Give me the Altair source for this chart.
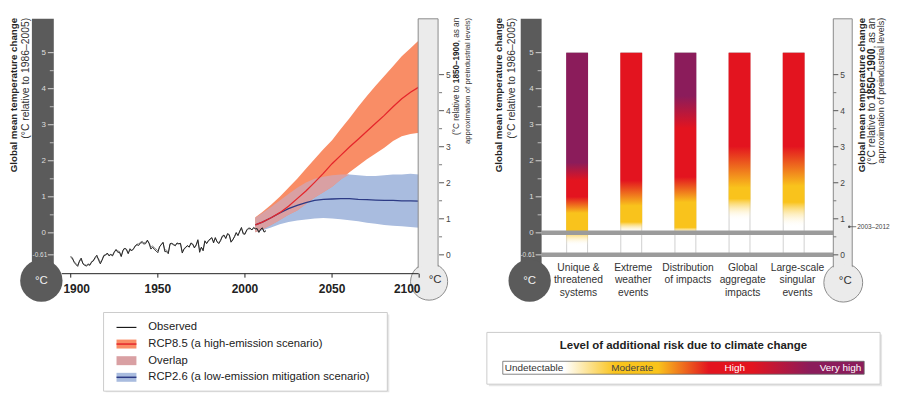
import math
import altair as alt
import numpy as np
import pandas as pd

# ------------------------------------------------------------------ data
obs_years = list(range(1900, 2013))
obs_main = [
    -0.65, -0.70, -0.82, -0.88, -0.93, -0.78, -0.70, -0.86, -0.90, -0.92,
    -0.88, -0.90, -0.80, -0.78, -0.68, -0.62, -0.76, -0.86, -0.76, -0.64,
    -0.62, -0.56, -0.64, -0.60, -0.64, -0.54, -0.46, -0.54, -0.54, -0.66,
    -0.48, -0.42, -0.47, -0.58, -0.44, -0.50, -0.45, -0.36, -0.33, -0.35,
    -0.28, -0.27, -0.31, -0.30, -0.20, -0.30, -0.45, -0.40, -0.46, -0.50,
    -0.55, -0.38, -0.33, -0.26, -0.52, -0.52, -0.58, -0.30, -0.29, -0.32,
    -0.36, -0.28, -0.30, -0.29, -0.56, -0.46, -0.40, -0.35, -0.40, -0.28,
    -0.31, -0.42, -0.33, -0.19, -0.54, -0.40, -0.50, -0.22, -0.30, -0.23,
    -0.17, -0.13, -0.28, -0.13, -0.25, -0.30, -0.22, -0.09, -0.06, -0.16,
    -0.02, -0.05, -0.26, -0.20, -0.10, 0.01, -0.08, 0.05, 0.15, -0.03,
    -0.04, 0.08, 0.13, 0.13, 0.08, 0.15, 0.11, 0.12, 0.01, 0.10,
    0.14, 0.02, 0.06,
]
obs_second = [
    -0.68, -0.73, -0.80, -0.85, -0.90, -0.80, -0.74, -0.84, -0.88, -0.90,
    -0.86, -0.88, -0.82, -0.76, -0.70, -0.66, -0.72, -0.82, -0.74, -0.62,
    -0.60, -0.58, -0.62, -0.60, -0.62, -0.52, -0.48, -0.50, -0.52, -0.64,
    -0.50, -0.44, -0.45, -0.56, -0.48, -0.48, -0.44, -0.38, -0.31, -0.31,
    -0.26, -0.23, -0.28, -0.26, -0.23, -0.27, -0.40, -0.36, -0.42, -0.45,
    -0.50, -0.40, -0.31, -0.28, -0.47, -0.48, -0.54, -0.32, -0.30, -0.34,
    -0.34, -0.30, -0.31, -0.30, -0.52, -0.44, -0.40, -0.37, -0.38, -0.30,
    -0.32, -0.40, -0.35, -0.22, -0.48, -0.40, -0.46, -0.24, -0.28, -0.21,
    -0.18, -0.15, -0.25, -0.15, -0.24, -0.27, -0.20, -0.11, -0.08, -0.14,
    -0.04, -0.06, -0.24, -0.18, -0.12, -0.01, -0.06, 0.03, 0.12, 0.00,
    -0.02, 0.06, 0.11, 0.11, 0.09, 0.13, 0.12, 0.10, 0.03, 0.09,
    0.12, 0.04, 0.05,
]

proj_years = [2006, 2010, 2015, 2020, 2025, 2030, 2035, 2040, 2045, 2050,
              2055, 2060, 2065, 2070, 2075, 2080, 2085, 2090, 2095, 2100]
rcp85_mean = [0.22, 0.30, 0.42, 0.56, 0.74, 0.95, 1.16, 1.40, 1.65, 1.92,
              2.15, 2.38, 2.60, 2.82, 3.04, 3.26, 3.50, 3.72, 3.90, 4.05]
rcp85_low = [0.02, 0.10, 0.22, 0.36, 0.50, 0.62, 0.80, 0.98, 1.13, 1.28,
             1.48, 1.68, 1.86, 2.04, 2.20, 2.36, 2.55, 2.68, 2.74, 2.78]
rcp85_high = [0.43, 0.58, 0.78, 1.00, 1.25, 1.50, 1.78, 2.05, 2.32, 2.57,
              2.88, 3.18, 3.50, 3.80, 4.08, 4.35, 4.62, 4.90, 5.12, 5.35]
rcp26_mean = [0.22, 0.30, 0.42, 0.55, 0.67, 0.76, 0.84, 0.90, 0.93, 0.94,
              0.95, 0.95, 0.93, 0.92, 0.91, 0.90, 0.90, 0.89, 0.89, 0.88]
rcp26_low = [0.02, 0.07, 0.15, 0.24, 0.30, 0.34, 0.37, 0.40, 0.41, 0.40,
             0.38, 0.35, 0.32, 0.28, 0.25, 0.22, 0.20, 0.18, 0.16, 0.14]
rcp26_high = [0.42, 0.55, 0.72, 0.90, 1.08, 1.25, 1.40, 1.50, 1.56, 1.60,
              1.62, 1.62, 1.60, 1.58, 1.58, 1.60, 1.62, 1.62, 1.64, 1.62]

year_ticks = [1900, 1950, 2000, 2050, 2100]
major_ticks = [0, 1, 2, 3, 4, 5]
minor_ticks = [0.5, 1.5, 2.5, 3.5, 4.5]
preindustrial_offset = 0.61          # 1850-1900 level relative to 1986-2005
recent_decade_warming = 0.78         # 2003-2012 relative to 1850-1900
recent_decade_label = "2003–2012"

categories = [
    "Unique &\nthreatened\nsystems",
    "Extreme\nweather\nevents",
    "Distribution\nof impacts",
    "Global\naggregate\nimpacts",
    "Large-scale\nsingular\nevents",
]
# temperature (deg C rel. 1986-2005) at which each risk level is reached
risk_transitions = [
    [(-0.35, "U"), (0.05, "M"), (0.55, "M"), (1.00, "H"), (1.45, "H"), (1.95, "V")],
    [(0.00, "U"), (0.30, "M"), (0.75, "M"), (1.45, "H")],
    [(-0.05, "U"), (0.15, "M"), (0.85, "M"), (1.55, "H"), (2.90, "H"), (3.80, "V")],
    [(0.35, "U"), (0.95, "M"), (1.25, "M"), (2.40, "H")],
    [(0.15, "U"), (0.85, "M"), (1.30, "M"), (2.40, "H")],
]
risk_top = 5.0
risk_levels = ["Undetectable", "Moderate", "High", "Very high"]

legend_labels = ["Observed", "RCP8.5 (a high-emission scenario)", "Overlap",
                 "RCP2.6 (a low-emission mitigation scenario)"]
risk_title = "Level of additional risk due to climate change"
y_title = "Global mean temperature change"
y_sub_recent = "(°C relative to 1986–2005)"
y_sub_pre = ["(°C relative to", "1850–1900", ", as an"]
y_sub_pre2 = "approximation of preindustrial levels)"

# ------------------------------------------------------------------ style / layout
FONT = "Liberation Sans, Arial, sans-serif"
DARK = "#5b5b5b"
LIGHT = "#ebebeb"
EDGE = "#8a8a8a"
C_ORANGE = "#f98d66"
C_BLUE = "#a9bcdf"
C_OVER = "#d9a0a3"
C_RED = "#e5262b"
C_NAVY = "#2c3a85"
RISK_COL = {"U": "#ffffff", "M": "#f9c31c", "H": "#e3141f", "V": "#8b1c5b"}

W, H = 895, 385
def cx(p):
    return p - 8
def cy(p):
    return p - 8

XL_DOM = [1900 + (8 - 67) / 1.75, 1900 + (903 - 67) / 1.75]
XR_DOM = [(8 - 577) / 55.0, (903 - 577) / 55.0]
Y_DOM = [(233 - 393) / 36.2, (233 - 8) / 36.2]
BAR_BOTTOM = -preindustrial_offset

ONE = pd.DataFrame({"k": [0]})


def XL(f):
    return alt.X(f, type="quantitative", scale=alt.Scale(domain=XL_DOM, nice=False, zero=False), axis=None)


def XR(f):
    return alt.X(f, type="quantitative", scale=alt.Scale(domain=XR_DOM, nice=False, zero=False), axis=None)


def YQ(f):
    return alt.Y(f, type="quantitative", scale=alt.Scale(domain=Y_DOM, nice=False, zero=False), axis=None)


def text_px(x, y, s, size, color="#222222", weight="normal", align="left",
            baseline="middle", angle=0):
    return alt.Chart(ONE).mark_text(
        text=s, fontSize=size, color=color, fontWeight=weight, align=align,
        baseline=baseline, angle=angle, font=FONT,
    ).encode(x=alt.value(cx(x)), y=alt.value(cy(y)))


def rect_px(x1, x2, y1, y2, **kw):
    return alt.Chart(ONE).mark_rect(**kw).encode(
        x=alt.value(cx(x1)), x2=alt.value(cx(x2)), y=alt.value(cy(y1)), y2=alt.value(cy(y2)))


def circle_px(x, y, r, **kw):
    return alt.Chart(ONE).mark_circle(size=math.pi * r * r, opacity=1, **kw).encode(
        x=alt.value(cx(x)), y=alt.value(cy(y)))


def hline_px(x1, x2, y, **kw):
    return alt.Chart(ONE).mark_rule(**kw).encode(
        x=alt.value(cx(x1)), x2=alt.value(cx(x2)), y=alt.value(cy(y)))


def ticks_at(values, x1, x2, color, width=1.0):
    df = pd.DataFrame({"t": values})
    return alt.Chart(df).mark_rule(color=color, strokeWidth=width).encode(
        x=alt.value(cx(x1)), x2=alt.value(cx(x2)), y=YQ("t"))


def labels_at(values, labels, x, color, size, align):
    df = pd.DataFrame({"t": values, "lab": labels})
    return alt.Chart(df).mark_text(fontSize=size, color=color, align=align,
                                   baseline="middle", font=FONT).encode(
        x=alt.value(cx(x)), y=YQ("t"), text="lab:N")


def dark_thermo(bar_l, bar_r):
    bx = (bar_l + bar_r) / 2 - 1.5
    out = [
        rect_px(bar_l, bar_r, 18, 272, color=DARK),
        circle_px(bx, 281, 24, color=DARK),
        text_px(bx, 281, "°C", 11.5, color="#f0f0f0", align="center"),
        ticks_at(major_ticks, bar_r - 6, bar_r, "#d6d6d6"),
        ticks_at(minor_ticks, bar_r - 4, bar_r, "#bdbdbd"),
        ticks_at([BAR_BOTTOM], bar_r - 6, bar_r, "#d6d6d6"),
        labels_at(major_ticks, [str(v) for v in major_ticks], bar_r - 8, "#dddddd", 8, "right"),
        labels_at([BAR_BOTTOM], ["-0.61"], bar_r - 6.5, "#dddddd", 6.5, "right"),
    ]
    return out


def light_thermo(bar_l, bar_r, bulb_x, bulb_y, r, tick_side, text_dx):
    out = [
        circle_px(bulb_x, bulb_y, r, fill=LIGHT, stroke=EDGE, strokeWidth=1),
        rect_px(bar_l, bar_r, 18, bulb_y, fill=LIGHT, stroke=EDGE, strokeWidth=1),
        circle_px(bulb_x, bulb_y, r - 1.2, fill=LIGHT, strokeWidth=0),
        text_px(bulb_x + text_dx, bulb_y - 2, "°C", 11.5, color="#333333", align="center"),
    ]
    vals = [v - preindustrial_offset for v in major_ticks]
    mins = [v - preindustrial_offset for v in minor_ticks]
    if tick_side == "outside":
        out += [ticks_at(vals, bar_r + 1, bar_r + 6, "#555555"),
                ticks_at(mins, bar_r + 1, bar_r + 4, "#777777"),
                labels_at(vals, [str(v) for v in major_ticks], bar_r + 8, "#444444", 8.5, "left")]
    else:
        out += [ticks_at(vals, bar_l, bar_l + 5, "#555555"),
                ticks_at(mins, bar_l, bar_l + 3, "#777777"),
                labels_at(vals, [str(v) for v in major_ticks], bar_l + 7, "#444444", 8.5, "left")]
    return out


def rot(x, s, size, weight="normal", color="#333333", top=17):
    return text_px(x, top, s, size, color=color, weight=weight, align="right", angle=270)


def est_w(s, size):
    w = {" ": 278, ",": 278, "–": 556, "(": 333, "°": 400, "C": 722, "a": 556,
         "s": 500, "n": 556}
    return sum(w.get(ch, 556) for ch in s) / 1000.0 * size


def rot_mixed(x, parts, size, top=17):
    out = []
    y = top
    seg_end = parts[2]
    out.append(text_px(x, y, seg_end, size, color="#333333", align="right", angle=270))
    y += est_w(seg_end, size)
    out.append(text_px(x, y, parts[1], size, color="#222222", weight="bold", align="right", angle=270))
    y += est_w(parts[1], size) + est_w(" ", size)
    out.append(text_px(x, y, parts[0], size, color="#333333", align="right", angle=270))
    return out


layers = []

# ---------------- left panel: projections & observations
proj = pd.DataFrame({"year": proj_years, "m85": rcp85_mean, "l85": rcp85_low, "h85": rcp85_high,
                     "m26": rcp26_mean, "l26": rcp26_low, "h26": rcp26_high})
proj["ov_hi"] = np.minimum(proj["h85"], proj["h26"])
proj["ov_lo"] = np.minimum(np.maximum(proj["l85"], proj["l26"]), proj["ov_hi"])
obs = pd.DataFrame({"year": obs_years, "a": obs_main, "b": obs_second})

layers += [
    alt.Chart(proj).mark_area(color=C_BLUE, opacity=1).encode(x=XL("year"), y=YQ("l26"), y2=alt.Y2("h26")),
    alt.Chart(proj).mark_area(color=C_ORANGE, opacity=1).encode(x=XL("year"), y=YQ("l85"), y2=alt.Y2("h85")),
    alt.Chart(proj).mark_area(color=C_OVER, opacity=1).encode(x=XL("year"), y=YQ("ov_lo"), y2=alt.Y2("ov_hi")),
    alt.Chart(proj).mark_line(color=C_NAVY, strokeWidth=1.3).encode(x=XL("year"), y=YQ("m26")),
    alt.Chart(proj).mark_line(color=C_RED, strokeWidth=1.3).encode(x=XL("year"), y=YQ("m85")),
    alt.Chart(obs).mark_line(color="#777777", strokeWidth=0.9).encode(x=XL("year"), y=YQ("b")),
    alt.Chart(obs).mark_line(color="#1a1a1a", strokeWidth=0.9).encode(x=XL("year"), y=YQ("a")),
]

layers += dark_thermo(28, 50)
layers += light_thermo(416, 436, 427, 282, 21, "outside", 6)

# x axis
yt = pd.DataFrame({"year": year_ticks, "lab": [str(v) for v in year_ticks]})
layers += [
    hline_px(58, 416.5, 274, color="#222222", strokeWidth=1),
    alt.Chart(yt).mark_rule(color="#222222", strokeWidth=1).encode(
        x=XL("year"), y=alt.value(cy(274)), y2=alt.value(cy(278))),
    alt.Chart(yt.iloc[1:4]).mark_text(fontSize=12, fontWeight="bold", color="#222222",
                                      align="center", baseline="middle", font=FONT).encode(
        x=XL("year"), y=alt.value(cy(289)), text="lab:N"),
    alt.Chart(yt.iloc[[0]]).mark_text(fontSize=12, fontWeight="bold", color="#222222",
                                      align="center", baseline="middle", font=FONT, dx=6).encode(
        x=XL("year"), y=alt.value(cy(289)), text="lab:N"),
    alt.Chart(yt.iloc[[4]]).mark_text(fontSize=12, fontWeight="bold", color="#222222",
                                      align="center", baseline="middle", font=FONT, dx=-12).encode(
        x=XL("year"), y=alt.value(cy(289)), text="lab:N"),
]

# rotated titles of the left panel
layers += [rot(10, y_title, 9.8, weight="bold", color="#222222"), rot(22, y_sub_recent, 10.4)]
layers += rot_mixed(455, y_sub_pre, 8.2)
layers += [rot(466, y_sub_pre2, 7.8)]

# ---------------- left legend
LX1, LX2, LY1, LY2 = 100, 385, 313, 392
layers += [
    rect_px(LX1 + 2, LX2 + 2, LY1 + 2, LY2 + 1, color="#e6e6e6"),
    rect_px(LX1, LX2, LY1, LY2, fill="#ffffff", stroke="#cccccc", strokeWidth=1),
]
for i, lab in enumerate(legend_labels):
    yc = 328 + i * 16.7
    if i == 0:
        layers.append(hline_px(113, 133, yc, color="#1a1a1a", strokeWidth=1.2))
    elif i == 1:
        layers.append(rect_px(113, 133, yc - 4.5, yc + 4.5, color=C_ORANGE))
        layers.append(hline_px(113, 133, yc, color=C_RED, strokeWidth=1.5))
    elif i == 2:
        layers.append(rect_px(113, 133, yc - 4.5, yc + 4.5, color=C_OVER))
    else:
        layers.append(rect_px(113, 133, yc - 4.5, yc + 4.5, color=C_BLUE))
        layers.append(hline_px(113, 133, yc, color=C_NAVY, strokeWidth=1.5))
    layers.append(text_px(145, yc, lab, 11.3, color="#222222"))

# ---------------- right panel: risk bars
bars = pd.DataFrame({"i": list(range(len(categories))), "lab": categories,
                     "top": [risk_top] * len(categories), "bot": [BAR_BOTTOM] * len(categories)})


def bar_gradient(trans):
    span = risk_top - BAR_BOTTOM
    stops = []
    first_t, first_l = trans[0]
    col0 = "rgba(255,255,255,0)" if first_l == "U" else RISK_COL[first_l]
    stops.append(alt.GradientStop(color=col0, offset=0))
    for t, lvl in trans:
        off = min(max((t - BAR_BOTTOM) / span, 0.0), 1.0)
        col = "rgba(255,255,255,0)" if lvl == "U" else RISK_COL[lvl]
        stops.append(alt.GradientStop(color=col, offset=off))
    stops.append(alt.GradientStop(color=RISK_COL[trans[-1][1]], offset=1))
    return alt.Gradient(gradient="linear", stops=stops, x1=0, x2=0, y1=1, y2=0)


layers.append(alt.Chart(bars).mark_bar(size=21, fill="transparent", stroke="#c4c4c4",
                                       strokeWidth=0.8, orient="vertical").encode(
    x=XR("i"), y=YQ("top"), y2=alt.Y2("bot")))
for k, trans in enumerate(risk_transitions):
    layers.append(alt.Chart(bars.iloc[[k]]).mark_bar(size=22, fill=bar_gradient(trans),
                                                     orient="vertical").encode(
        x=XR("i"), y=YQ("top"), y2=alt.Y2("bot")))

band_df = pd.DataFrame({"t": [0.0, BAR_BOTTOM]})
layers.append(alt.Chart(band_df).mark_rule(color="#9b9b9b", strokeWidth=4.5).encode(
    x=alt.value(cx(540)), x2=alt.value(cx(833)), y=YQ("t")))

layers.append(alt.Chart(bars).mark_text(fontSize=10.3, color="#333333", align="center",
                                        baseline="top", lineBreak="\n", lineHeight=12.5,
                                        font=FONT).encode(
    x=XR("i"), y=alt.value(cy(263)), text="lab:N"))

layers += dark_thermo(519, 540)
layers += light_thermo(833, 852, 843, 283, 22, "inside", 2)

dec = pd.DataFrame({"t": [recent_decade_warming - preindustrial_offset], "lab": [recent_decade_label]})
layers += [
    alt.Chart(dec).mark_rule(color="#555555", strokeWidth=0.8).encode(
        x=alt.value(cx(848)), x2=alt.value(cx(856)), y=YQ("t")),
    alt.Chart(dec).mark_circle(color="#555555", size=6, opacity=1).encode(
        x=alt.value(cx(849)), y=YQ("t")),
    alt.Chart(dec).mark_text(fontSize=6.5, color="#444444", align="left", baseline="middle",
                             font=FONT).encode(x=alt.value(cx(857)), y=YQ("t"), text="lab:N"),
]

layers += [rot(497, y_title, 9.8, weight="bold", color="#222222"), rot(510, y_sub_recent, 10.4)]
layers += [rot(862, y_title, 9.8, weight="bold", color="#222222")]
layers += rot_mixed(872, y_sub_pre, 10.3)
layers += [rot(881, y_sub_pre2, 9.0)]

# ---------------- right legend
RX1, RX2, RY1, RY2 = 485, 880, 333, 385
legend_grad = alt.Gradient(
    gradient="linear", x1=0, x2=1, y1=0, y2=0,
    stops=[alt.GradientStop(color=RISK_COL["U"], offset=0),
           alt.GradientStop(color=RISK_COL["U"], offset=0.17),
           alt.GradientStop(color=RISK_COL["M"], offset=0.31),
           alt.GradientStop(color=RISK_COL["M"], offset=0.43),
           alt.GradientStop(color=RISK_COL["H"], offset=0.57),
           alt.GradientStop(color=RISK_COL["H"], offset=0.69),
           alt.GradientStop(color=RISK_COL["V"], offset=0.85),
           alt.GradientStop(color=RISK_COL["V"], offset=1)])
layers += [
    rect_px(RX1 + 2, RX2 + 2, RY1 + 2, RY2 + 2, color="#e6e6e6"),
    rect_px(RX1, RX2, RY1, RY2, fill="#ffffff", stroke="#cccccc", strokeWidth=1),
    text_px((RX1 + RX2) / 2, 347, risk_title, 11.5, weight="bold", align="center"),
    rect_px(501, 864, 362, 375, fill=legend_grad, stroke="#666666", strokeWidth=0.8),
    text_px(503, 368.5, risk_levels[0], 10, color="#333333", align="left"),
    text_px(631, 368.5, risk_levels[1], 10, color="#444444", align="center"),
    text_px(734, 368.5, risk_levels[2], 10, color="#ffffff", align="center"),
    text_px(861, 368.5, risk_levels[3], 10, color="#ffffff", align="right"),
]

chart = alt.layer(*layers).resolve_scale(x="independent").properties(
    width=W, height=H, padding=0
).configure_view(stroke=None)

chart.save("out.html", embed_options={"renderer": "svg", "actions": False})
